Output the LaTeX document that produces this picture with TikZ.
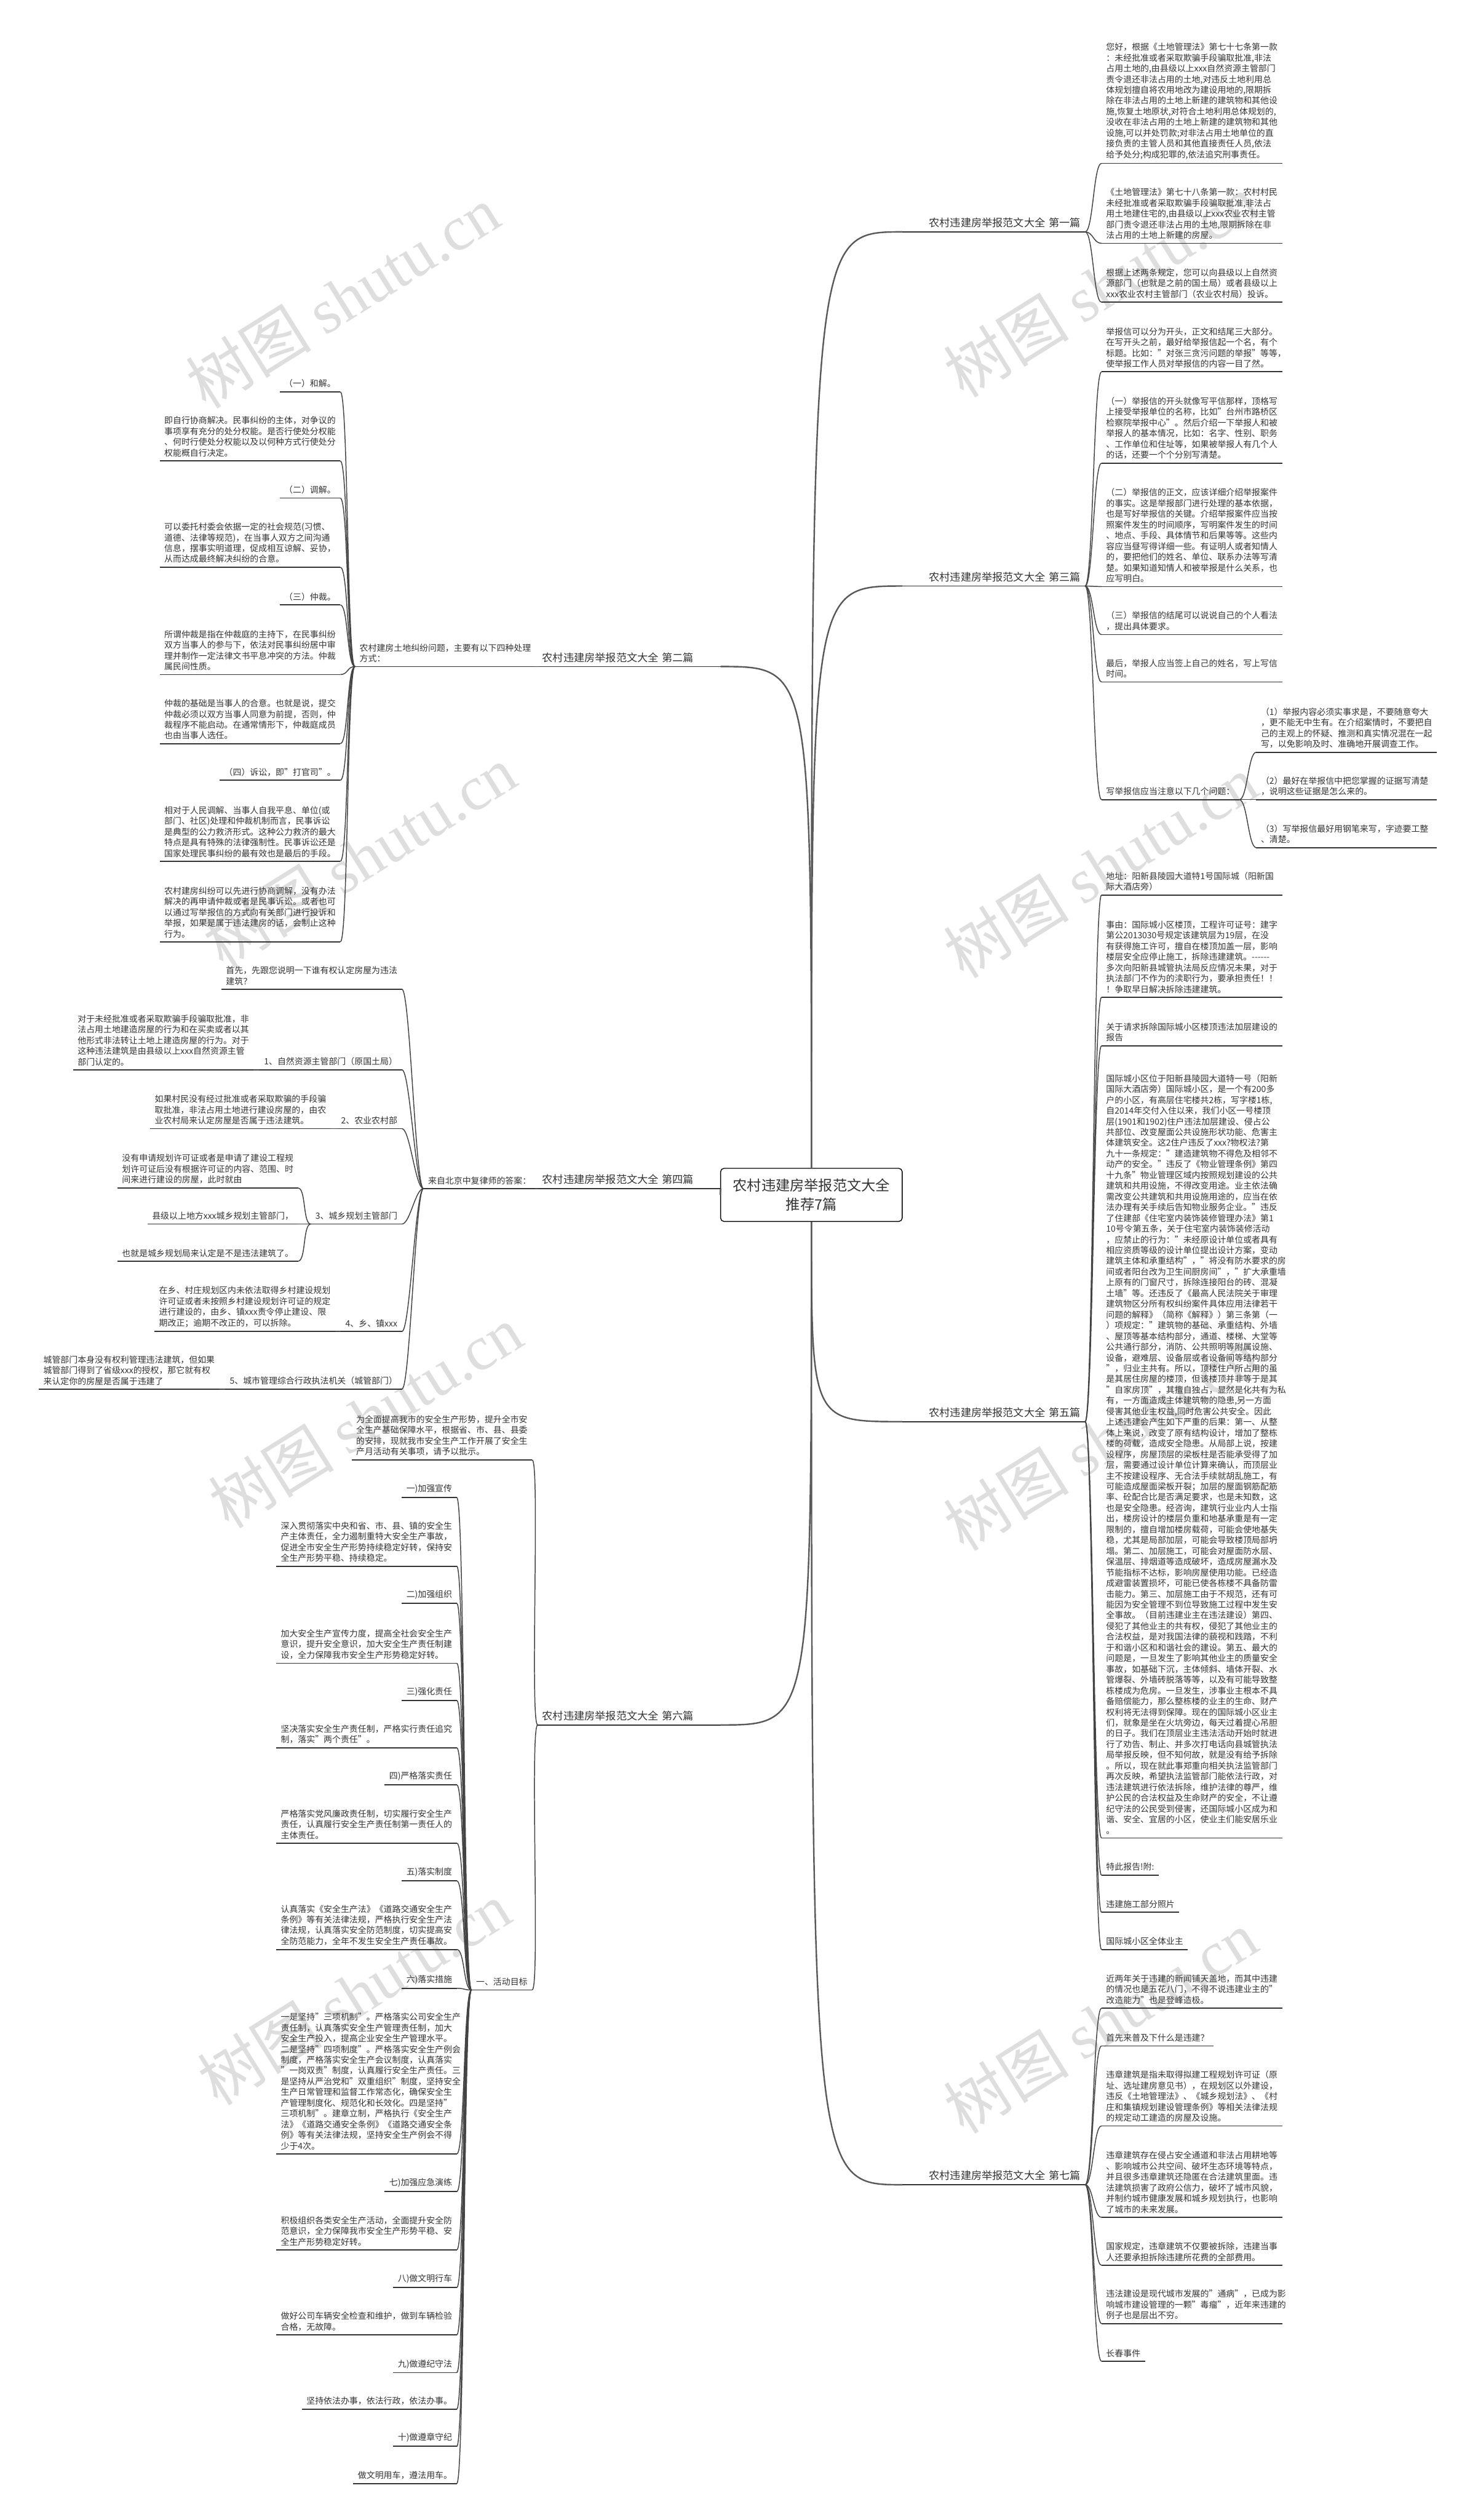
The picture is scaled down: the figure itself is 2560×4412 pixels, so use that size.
\documentclass[tikz,border=0pt]{standalone}
\usepackage{fontspec}
\setmainfont{Noto Sans CJK SC}
\newfontfamily\wmfont{Liberation Serif}
\usetikzlibrary{positioning,calc}

\definecolor{ink}{HTML}{333333}
\definecolor{wire}{HTML}{444444}
\definecolor{trunkgray}{HTML}{595959}
\definecolor{wmgray}{HTML}{DEDEDE}

\newcommand\leaffont{\fontsize{15}{18.8}\selectfont}
\newcommand\branchfont{\fontsize{18.5}{22}\selectfont}
\newcommand\topicfont{\fontsize{25}{33}\selectfont}

\tikzset{
    topic/.style={draw=black, fill=white, rounded corners=6pt, line width=1.5pt, minimum width=318pt,
                  minimum height=93pt, align=center, font=\topicfont, text=ink},
    uline/.style={draw=ink, line width=2pt},
    leaf/.style={font=\leaffont, text=ink, align=left, inner xsep=8pt, inner ysep=7pt,
                 append after command={(\tikzlastnode.south west) edge[uline] (\tikzlastnode.south east)}},
    para/.style={leaf, text width=300pt},
    branchR/.style={leaf, font=\branchfont, text width=304pt, align=right},
    branchL/.style={leaf, font=\branchfont, text width=304pt, align=left},
    link/.style={draw=wire, line width=1.6pt},
    trunk/.style={draw=trunkgray, line width=2.6pt},
    rfork/.style={to path={.. controls ($(\tikztostart)+(14,0)$) and ($(\tikztotarget)+(-14,0)$) .. (\tikztotarget)}},
    lfork/.style={to path={.. controls ($(\tikztostart)+(-14,0)$) and ($(\tikztotarget)+(14,0)$) .. (\tikztotarget)}},
    stamp/.style={text=wmgray, rotate=32, font=\fontsize{110}{110}\selectfont},
}

\begin{document}
\begin{tikzpicture}[x=1pt, y=-1pt]
    \fill[white] (0,0) rectangle (2560,4412);
    \useasboundingbox (0,0) rectangle (2560,4412);

    % Watermarks
    \node[stamp] (wm1) at (600,520) {树图 {\wmfont shutu.cn}};
    \node[stamp] (wm2) at (1927,500) {树图 {\wmfont shutu.cn}};
    \node[stamp] (wm3) at (630,1500) {树图 {\wmfont shutu.cn}};
    \node[stamp] (wm4) at (1927,1517) {树图 {\wmfont shutu.cn}};
    \node[stamp] (wm5) at (640,2480) {树图 {\wmfont shutu.cn}};
    \node[stamp] (wm6) at (1927,2520) {树图 {\wmfont shutu.cn}};
    \node[stamp] (wm7) at (620,3490) {树图 {\wmfont shutu.cn}};
    \node[stamp] (wm8) at (1927,3540) {树图 {\wmfont shutu.cn}};

    % Branches
    \node[branchR, anchor=south west] (art1) at (1580,406) {农村违建房举报范文大全 第一篇};
    \node[branchR, anchor=south west] (art3) at (1580,1026) {农村违建房举报范文大全 第三篇};
    \node[branchR, anchor=south west] (art5) at (1580,2489) {农村违建房举报范文大全 第五篇};
    \node[branchR, anchor=south west] (art7) at (1580,3825) {农村违建房举报范文大全 第七篇};
    \node[branchL, anchor=south east] (art2) at (1262,1167) {农村违建房举报范文大全 第二篇};
    \node[branchL, anchor=south east] (art4) at (1262,2081) {农村违建房举报范文大全 第四篇};
    \node[branchL, anchor=south east] (art6) at (1262,3020) {农村违建房举报范文大全 第六篇};

    % Root
    \node[topic] (root) at (1421,2092) {农村违建房举报范文大全\\推荐7篇};
    \draw[trunk] (root.north) .. controls (root.north |- art1.south west) .. (art1.south west);
    \draw[trunk] (root.north) .. controls (root.north |- art3.south west) .. (art3.south west);
    \draw[trunk] (root.north) .. controls (root.north |- art2.south east) .. (art2.south east);
    \draw[trunk] (root.south) .. controls (root.south |- art5.south west) .. (art5.south west);
    \draw[trunk] (root.south) .. controls (root.south |- art7.south west) .. (art7.south west);
    \draw[trunk] (root.south) .. controls (root.south |- art6.south east) .. (art6.south east);
    \draw[trunk] (root.west) -- (art4.south east);

    % First
    \node[para, anchor=south west] (a1a) at (1929,286) {您好，根据《土地管理法》第七十七条第一款\\：未经批准或者采取欺骗手段骗取批准,非法\\占用土地的,由县级以上xxx自然资源主管部门\\责令退还非法占用的土地,对违反土地利用总\\体规划擅自将农用地改为建设用地的,限期拆\\除在非法占用的土地上新建的建筑物和其他设\\施,恢复土地原状,对符合土地利用总体规划的,\\没收在非法占用的土地上新建的建筑物和其他\\设施,可以并处罚款;对非法占用土地单位的直\\接负责的主管人员和其他直接责任人员,依法\\给予处分;构成犯罪的,依法追究刑事责任。};
    \node[para, anchor=south west] (a1b) at (1929,426) {《土地管理法》第七十八条第一款：农村村民\\未经批准或者采取欺骗手段骗取批准,非法占\\用土地建住宅的,由县级以上xxx农业农村主管\\部门责令退还非法占用的土地,限期拆除在非\\法占用的土地上新建的房屋。};
    \node[para, anchor=south west] (a1c) at (1929,529) {根据上述两条规定，您可以向县级以上自然资\\源部门（也就是之前的国土局）或者县级以上\\xxx农业农村主管部门（农业农村局）投诉。};
    \draw[link] (art1.south east) to[rfork] (a1a.south west);
    \draw[link] (art1.south east) to[rfork] (a1b.south west);
    \draw[link] (art1.south east) to[rfork] (a1c.south west);

    % Third
    \node[para, anchor=south west] (a3a) at (1929,651) {举报信可以分为开头，正文和结尾三大部分。\\在写开头之前，最好给举报信起一个名，有个\\标题。比如："对张三贪污问题的举报"等等，\\使举报工作人员对举报信的内容一目了然。};
    \node[para, anchor=south west] (a3b) at (1929,811) {（一）举报信的开头就像写平信那样，顶格写\\上接受举报单位的名称，比如"台州市路桥区\\检察院举报中心"。然后介绍一下举报人和被\\举报人的基本情况，比如：名字、性别、职务\\、工作单位和住址等，如果被举报人有几个人\\的话，还要一个个分别写清楚。};
    \node[para, anchor=south west] (a3c) at (1929,1027) {（二）举报信的正文，应该详细介绍举报案件\\的事实。这是举报部门进行处理的基本依据，\\也是写好举报信的关键。介绍举报案件应当按\\照案件发生的时间顺序，写明案件发生的时间\\、地点、手段、具体情节和后果等等。这些内\\容应当昼写得详细一些。有证明人或者知情人\\的，要把他们的姓名、单位、联系办法等写清\\楚。如果知道知情人和被举报是什么关系，也\\应写明白。};
    \node[para, anchor=south west] (a3d) at (1929,1111) {（三）举报信的结尾可以说说自己的个人看法\\，提出具体要求。};
    \node[para, anchor=south west] (a3e) at (1929,1194) {最后，举报人应当签上自己的姓名，写上写信\\时间。};
    \node[leaf, anchor=south west] (a3f) at (1929,1400) {写举报信应当注意以下几个问题：};
    \node[para, anchor=south west] (a3g) at (2200,1317) {（1）举报内容必须实事求是，不要随意夸大\\，更不能无中生有。在介绍案情时，不要把自\\己的主观上的怀疑、推测和真实情况混在一起\\写，以免影响及时、准确地开展调查工作。};
    \node[para, anchor=south west] (a3h) at (2200,1400) {（2）最好在举报信中把您掌握的证据写清楚\\，说明这些证据是怎么来的。};
    \node[para, anchor=south west] (a3i) at (2200,1484) {（3）写举报信最好用钢笔来写，字迹要工整\\、清楚。};
    \draw[link] (art3.south east) to[rfork] (a3a.south west);
    \draw[link] (art3.south east) to[rfork] (a3b.south west);
    \draw[link] (art3.south east) to[rfork] (a3c.south west);
    \draw[link] (art3.south east) to[rfork] (a3d.south west);
    \draw[link] (art3.south east) to[rfork] (a3e.south west);
    \draw[link] (art3.south east) to[rfork] (a3f.south west);
    \draw[link] (a3f.south east) to[rfork] (a3g.south west);
    \draw[link] (a3f.south east) to[rfork] (a3h.south west);
    \draw[link] (a3f.south east) to[rfork] (a3i.south west);

    % Fifth
    \node[para, anchor=south west] (a5a) at (1929,1567) {地址：阳新县陵园大道特1号国际城（阳新国\\际大酒店旁）};
    \node[para, anchor=south west] (a5b) at (1929,1746) {事由：国际城小区楼顶，工程许可证号：建字\\第公2013030号规定该建筑层为19层，在没\\有获得施工许可，擅自在楼顶加盖一层，影响\\楼层安全应停止施工，拆除违建建筑。-{}-{}-{}-{}-{}-\\多次向阳新县城管执法局反应情况未果，对于\\执法部门不作为的渎职行为，要承担责任！！\\！争取早日解决拆除违建建筑。};
    \node[para, anchor=south west] (a5c) at (1929,1831) {关于请求拆除国际城小区楼顶违法加层建设的\\报告};
    \node[para, anchor=south west] (a5d) at (1929,3218) {国际城小区位于阳新县陵园大道特一号（阳新\\国际大酒店旁）国际城小区，是一个有200多\\户的小区，有高层住宅楼共2栋，写字楼1栋,\\自2014年交付入住以来，我们小区一号楼顶\\层(1901和1902)住户违法加层建设、侵占公\\共部位、改变屋面公共设施形状功能、危害主\\体建筑安全。这2住户违反了xxx?物权法?第\\九十一条规定："建造建筑物不得危及相邻不\\动产的安全。"违反了《物业管理条例》第四\\十九条"物业管理区域内按照规划建设的公共\\建筑和共用设施，不得改变用途。业主依法确\\需改变公共建筑和共用设施用途的，应当在依\\法办理有关手续后告知物业服务企业。"违反\\了住建部《住宅室内装饰装修管理办法》第1\\10号令第五条，关于住宅室内装饰装修活动\\，应禁止的行为："未经原设计单位或者具有\\相应资质等级的设计单位提出设计方案，变动\\建筑主体和承重结构"，"将没有防水要求的房\\间或者阳台改为卫生间厨房间"，"扩大承重墙\\上原有的门窗尺寸，拆除连接阳台的砖、混凝\\土墙"等。还违反了《最高人民法院关于审理\\建筑物区分所有权纠纷案件具体应用法律若干\\问题的解释》（简称《解释》）第三条第（一\\）项规定："建筑物的基础、承重结构、外墙\\、屋顶等基本结构部分，通道、楼梯、大堂等\\公共通行部分，消防、公共照明等附属设施、\\设备，避难层、设备层或者设备间等结构部分\\"，归业主共有。所以，顶楼住户所占用的虽\\是其居住房屋的楼顶，但该楼顶并非等于是其\\"自家房顶"，其擅自独占，显然是化共有为私\\有，一方面造成主体建筑物的隐患,另一方面\\侵害其他业主权益,同时危害公共安全。因此\\上述违建会产生如下严重的后果：第一、从整\\体上来说，改变了原有结构设计，增加了整栋\\楼的荷载，造成安全隐患。从局部上说，按建\\设程序，房屋顶层的梁板柱是否能承受得了加\\层，需要通过设计单位计算来确认，而顶层业\\主不按建设程序、无合法手续就胡乱施工，有\\可能造成屋面梁板开裂；加层的屋面钢筋配筋\\率、砼配合比是否满足要求，也是未知数，这\\也是安全隐患。经咨询，建筑行业业内人士指\\出，楼房设计的楼层负重和地基承重是有一定\\限制的，擅自增加楼房载荷，可能会使地基失\\稳，尤其是局部加层，可能会导致楼顶局部坍\\塌。第二、加层施工，可能会对屋面防水层、\\保温层、排烟道等造成破坏，造成房屋漏水及\\节能指标不达标，影响房屋使用功能。已经造\\成避雷装置损坏，可能已使各栋楼不具备防雷\\击能力。第三、加层施工由于不规范，还有可\\能因为安全管理不到位导致施工过程中发生安\\全事故。（目前违建业主在违法建设）第四、\\侵犯了其他业主的共有权，侵犯了其他业主的\\合法权益，是对我国法律的藐视和践踏，不利\\于和谐小区和和谐社会的建设。第五、最大的\\问题是，一旦发生了影响其他业主的质量安全\\事故，如基础下沉，主体倾斜、墙体开裂、水\\管爆裂、外墙砖脱落等等，以及有可能导致整\\栋楼成为危房。一旦发生，涉事业主根本不具\\备赔偿能力，那么整栋楼的业主的生命、财产\\权利将无法得到保障。现在的国际城小区业主\\们，就象是坐在火坑旁边，每天过着提心吊胆\\的日子。我们在顶层业主违法活动开始时就进\\行了劝告、制止、并多次打电话向县城管执法\\局举报反映，但不知何故，就是没有给予拆除\\。所以，现在就此事郑重向相关执法监管部门\\再次反映，希望执法监管部门能依法行政，对\\违法建筑进行依法拆除，维护法律的尊严，维\\护公民的合法权益及生命财产的安全，不让遵\\纪守法的公民受到侵害，还国际城小区成为和\\谐、安全、宜居的小区，使业主们能安居乐业\\。};
    \node[leaf, anchor=south west] (a5e) at (1929,3283) {特此报告!附:};
    \node[leaf, anchor=south west] (a5f) at (1929,3348) {违建施工部分照片};
    \node[leaf, anchor=south west] (a5g) at (1929,3413) {国际城小区全体业主};
    \draw[link] (art5.south east) to[rfork] (a5a.south west);
    \draw[link] (art5.south east) to[rfork] (a5b.south west);
    \draw[link] (art5.south east) to[rfork] (a5c.south west);
    \draw[link] (art5.south east) to[rfork] (a5d.south west);
    \draw[link] (art5.south east) to[rfork] (a5e.south west);
    \draw[link] (art5.south east) to[rfork] (a5f.south west);
    \draw[link] (art5.south east) to[rfork] (a5g.south west);

    % Seventh
    \node[para, anchor=south west] (a7a) at (1929,3516) {近两年关于违建的新闻铺天盖地，而其中违建\\的情况也是五花八门，不得不说违建业主的"\\改造能力"也是登峰造极。};
    \node[leaf, anchor=south west] (a7b) at (1929,3582) {首先来普及下什么是违建？};
    \node[para, anchor=south west] (a7c) at (1929,3722) {违章建筑是指未取得拟建工程规划许可证（原\\址、选址建房意见书），在规划区以外建设，\\违反《土地管理法》、《城乡规划法》、《村\\庄和集镇规划建设管理条例》等相关法律法规\\的规定动工建造的房屋及设施。};
    \node[para, anchor=south west] (a7d) at (1929,3882) {违章建筑存在侵占安全通道和非法占用耕地等\\、影响城市公共空间、破坏生态环境等特点，\\并且很多违章建筑还隐匿在合法建筑里面。违\\法建筑损害了政府公信力，破坏了城市风貌，\\并制约城市健康发展和城乡规划执行，也影响\\了城市的未来发展。};
    \node[para, anchor=south west] (a7e) at (1929,3966) {国家规定，违章建筑不仅要被拆除，违建当事\\人还要承担拆除违建所花费的全部费用。};
    \node[para, anchor=south west] (a7f) at (1929,4068) {违法建设是现代城市发展的"通病"，已成为影\\响城市建设管理的一颗"毒瘤"，近年来违建的\\例子也是层出不穷。};
    \node[leaf, anchor=south west] (a7g) at (1929,4134) {长春事件};
    \draw[link] (art7.south east) to[rfork] (a7a.south west);
    \draw[link] (art7.south east) to[rfork] (a7b.south west);
    \draw[link] (art7.south east) to[rfork] (a7c.south west);
    \draw[link] (art7.south east) to[rfork] (a7d.south west);
    \draw[link] (art7.south east) to[rfork] (a7e.south west);
    \draw[link] (art7.south east) to[rfork] (a7f.south west);
    \draw[link] (art7.south east) to[rfork] (a7g.south west);

    % Second
    \node[para, anchor=south east] (a2q) at (938,1167) {农村建房土地纠纷问题，主要有以下四种处理\\方式：};
    \node[leaf, anchor=south east] (a2a) at (596,686) {（一）和解。};
    \node[para, anchor=south east] (a2b) at (596,807) {即自行协商解决。民事纠纷的主体，对争议的\\事项享有充分的处分权能。是否行使处分权能\\、何时行使处分权能以及以何种方式行使处分\\权能概自行决定。};
    \node[leaf, anchor=south east] (a2c) at (596,872) {（二）调解。};
    \node[para, anchor=south east] (a2d) at (596,993) {可以委托村委会依据一定的社会规范(习惯、\\道德、法律等规范)，在当事人双方之间沟通\\信息，摆事实明道理，促成相互谅解、妥协，\\从而达成最终解决纠纷的合意。};
    \node[leaf, anchor=south east] (a2e) at (596,1059) {（三）仲裁。};
    \node[para, anchor=south east] (a2f) at (596,1181) {所谓仲裁是指在仲裁庭的主持下，在民事纠纷\\双方当事人的参与下，依法对民事纠纷居中审\\理并制作一定法律文书平息冲突的方法。仲裁\\属民间性质。};
    \node[para, anchor=south east] (a2g) at (596,1302) {仲裁的基础是当事人的合意。也就是说，提交\\仲裁必须以双方当事人同意为前提，否则，仲\\裁程序不能启动。在通常情形下，仲裁庭成员\\也由当事人选任。};
    \node[leaf, anchor=south east] (a2h) at (596,1366) {（四）诉讼，即"打官司"。};
    \node[para, anchor=south east] (a2i) at (596,1508) {相对于人民调解、当事人自我平息、单位(或\\部门、社区)处理和仲裁机制而言，民事诉讼\\是典型的公力救济形式。这种公力救济的最大\\特点是具有特殊的法律强制性。民事诉讼还是\\国家处理民事纠纷的最有效也是最后的手段。};
    \node[para, anchor=south east] (a2j) at (596,1649) {农村建房纠纷可以先进行协商调解，没有办法\\解决的再申请仲裁或者是民事诉讼。或者也可\\以通过写举报信的方式向有关部门进行投诉和\\举报，如果是属于违法建房的话，会制止这种\\行为。};
    \draw[link] (art2.south west) to[lfork] (a2q.south east);
    \draw[link] (a2q.south west) to[lfork] (a2a.south east);
    \draw[link] (a2q.south west) to[lfork] (a2b.south east);
    \draw[link] (a2q.south west) to[lfork] (a2c.south east);
    \draw[link] (a2q.south west) to[lfork] (a2d.south east);
    \draw[link] (a2q.south west) to[lfork] (a2e.south east);
    \draw[link] (a2q.south west) to[lfork] (a2f.south east);
    \draw[link] (a2q.south west) to[lfork] (a2g.south east);
    \draw[link] (a2q.south west) to[lfork] (a2h.south east);
    \draw[link] (a2q.south west) to[lfork] (a2i.south east);
    \draw[link] (a2q.south west) to[lfork] (a2j.south east);

    % Fourth
    \node[leaf, anchor=south east] (a4q) at (938,2081) {来自北京中复律师的答案：};
    \node[para, anchor=south east] (a4a) at (704,1732) {首先，先跟您说明一下谁有权认定房屋为违法\\建筑？};
    \node[leaf, anchor=south east] (a4b) at (704,1873) {1、自然资源主管部门（原国土局）};
    \node[para, left=10pt of a4b.south west, anchor=south east] (a4b1) {对于未经批准或者采取欺骗手段骗取批准，非\\法占用土地建造房屋的行为和在买卖或者以其\\他形式非法转让土地上建造房屋的行为。对于\\这种违法建筑是由县级以上xxx自然资源主管\\部门认定的。};
    \node[leaf, anchor=south east] (a4c) at (704,1976) {2、农业农村部};
    \node[para, left=10pt of a4c.south west, anchor=south east] (a4c1) {如果村民没有经过批准或者采取欺骗的手段骗\\取批准，非法占用土地进行建设房屋的，由农\\业农村局来认定房屋是否属于违法建筑。};
    \node[leaf, anchor=south east] (a4d) at (704,2143) {3、城乡规划主管部门};
    \node[para, anchor=south east] (a4d1) at (522,2080) {没有申请规划许可证或者是申请了建设工程规\\划许可证后没有根据许可证的内容、范围、时\\间来进行建设的房屋，此时就由};
    \node[leaf, anchor=south east] (a4d2) at (522,2143) {县级以上地方xxx城乡规划主管部门，};
    \node[leaf, anchor=south east] (a4d3) at (522,2208) {也就是城乡规划局来认定是不是违法建筑了。};
    \node[leaf, anchor=south east] (a4e) at (704,2331) {4、乡、镇xxx};
    \node[para, left=10pt of a4e.south west, anchor=south east] (a4e1) {在乡、村庄规划区内未依法取得乡村建设规划\\许可证或者未按照乡村建设规划许可证的规定\\进行建设的，由乡、镇xxx责令停止建设、限\\期改正；逾期不改正的，可以拆除。};
    \node[leaf, anchor=south east] (a4f) at (704,2432) {5、城市管理综合行政执法机关（城管部门）};
    \node[para, left=10pt of a4f.south west, anchor=south east] (a4f1) {城管部门本身没有权利管理违法建筑，但如果\\城管部门得到了省级xxx的授权，那它就有权\\来认定你的房屋是否属于违建了};
    \draw[link] (art4.south west) to[lfork] (a4q.south east);
    \draw[link] (a4q.south west) to[lfork] (a4a.south east);
    \draw[link] (a4q.south west) to[lfork] (a4b.south east);
    \draw[link] (a4q.south west) to[lfork] (a4c.south east);
    \draw[link] (a4q.south west) to[lfork] (a4d.south east);
    \draw[link] (a4q.south west) to[lfork] (a4e.south east);
    \draw[link] (a4q.south west) to[lfork] (a4f.south east);
    \draw[link] (a4b.south west) to[lfork] (a4b1.south east);
    \draw[link] (a4c.south west) to[lfork] (a4c1.south east);
    \draw[link] (a4d.south west) to[lfork] (a4d1.south east);
    \draw[link] (a4d.south west) to[lfork] (a4d2.south east);
    \draw[link] (a4d.south west) to[lfork] (a4d3.south east);
    \draw[link] (a4e.south west) to[lfork] (a4e1.south east);
    \draw[link] (a4f.south west) to[lfork] (a4f1.south east);

    % Sixth
    \node[para, anchor=south east] (a6a) at (932,2556) {为全面提高我市的安全生产形势，提升全市安\\全生产基础保障水平，根据省、市、县、县委\\的安排，现就我市安全生产工作开展了安全生\\产月活动有关事项，请予以批示。};
    \node[leaf, anchor=south east] (a6b) at (932,3484) {一、活动目标};
    \node[leaf, anchor=south east] (g1) at (800,2622) {一)加强宣传};
    \node[para, anchor=south east] (g2) at (800,2742) {深入贯彻落实中央和省、市、县、镇的安全生\\产主体责任，全力遏制重特大安全生产事故，\\促进全市安全生产形势持续稳定好转，保持安\\全生产形势平稳、持续稳定。};
    \node[leaf, anchor=south east] (g3) at (800,2807) {二)加强组织};
    \node[para, anchor=south east] (g4) at (800,2912) {加大安全生产宣传力度，提高全社会安全生产\\意识，提升安全意识，加大安全生产责任制建\\设，全力保障我市安全生产形势稳定好转。};
    \node[leaf, anchor=south east] (g5) at (800,2977) {三)强化责任};
    \node[para, anchor=south east] (g6) at (800,3060) {坚决落实安全生产责任制，严格实行责任追究\\制，落实"两个责任"。};
    \node[leaf, anchor=south east] (g7) at (800,3125) {四)严格落实责任};
    \node[para, anchor=south east] (g8) at (800,3227) {严格落实党风廉政责任制，切实履行安全生产\\责任，认真履行安全生产责任制第一责任人的\\主体责任。};
    \node[leaf, anchor=south east] (g9) at (800,3293) {五)落实制度};
    \node[para, anchor=south east] (g10) at (800,3413) {认真落实《安全生产法》《道路交通安全生产\\条例》等有关法律法规，严格执行安全生产法\\律法规，认真落实安全防范制度，切实提高安\\全防范能力，全年不发生安全生产责任事故。};
    \node[leaf, anchor=south east] (g11) at (800,3481) {六)落实措施};
    \node[para, anchor=south east] (g12) at (800,3771) {一是坚持"三项机制"。严格落实公司安全生产\\责任制，认真落实安全生产管理责任制，加大\\安全生产投入，提高企业安全生产管理水平。\\二是坚持"四项制度"。严格落实安全生产例会\\制度，严格落实安全生产会议制度，认真落实\\"一岗双责"制度，认真履行安全生产责任。三\\是坚持从严治党和"双重组织"制度，坚持安全\\生产日常管理和监督工作常态化，确保安全生\\产管理制度化、规范化和长效化。四是坚持"\\三项机制"。建章立制，严格执行《安全生产\\法》《道路交通安全条例》《道路交通安全条\\例》等有关法律法规，坚持安全生产例会不得\\少于4次。};
    \node[leaf, anchor=south east] (g13) at (800,3837) {七)加强应急演练};
    \node[para, anchor=south east] (g14) at (800,3939) {积极组织各类安全生产活动，全面提升安全防\\范意识，全力保障我市安全生产形势平稳、安\\全生产形势稳定好转。};
    \node[leaf, anchor=south east] (g15) at (800,4005) {八)做文明行车};
    \node[para, anchor=south east] (g16) at (800,4088) {做好公司车辆安全检查和维护，做到车辆检验\\合格，无故障。};
    \node[leaf, anchor=south east] (g17) at (800,4154) {九)做遵纪守法};
    \node[leaf, anchor=south east] (g18) at (800,4218) {坚持依法办事，依法行政，依法办事。};
    \node[leaf, anchor=south east] (g19) at (800,4283) {十)做遵章守纪};
    \node[leaf, anchor=south east] (g20) at (800,4348) {做文明用车，遵法用车。};
    \draw[link] (art6.south west) to[lfork] (a6a.south east);
    \draw[link] (art6.south west) to[lfork] (a6b.south east);
    \draw[link] (a6b.south west) to[lfork] (g1.south east);
    \draw[link] (a6b.south west) to[lfork] (g2.south east);
    \draw[link] (a6b.south west) to[lfork] (g3.south east);
    \draw[link] (a6b.south west) to[lfork] (g4.south east);
    \draw[link] (a6b.south west) to[lfork] (g5.south east);
    \draw[link] (a6b.south west) to[lfork] (g6.south east);
    \draw[link] (a6b.south west) to[lfork] (g7.south east);
    \draw[link] (a6b.south west) to[lfork] (g8.south east);
    \draw[link] (a6b.south west) to[lfork] (g9.south east);
    \draw[link] (a6b.south west) to[lfork] (g10.south east);
    \draw[link] (a6b.south west) to[lfork] (g11.south east);
    \draw[link] (a6b.south west) to[lfork] (g12.south east);
    \draw[link] (a6b.south west) to[lfork] (g13.south east);
    \draw[link] (a6b.south west) to[lfork] (g14.south east);
    \draw[link] (a6b.south west) to[lfork] (g15.south east);
    \draw[link] (a6b.south west) to[lfork] (g16.south east);
    \draw[link] (a6b.south west) to[lfork] (g17.south east);
    \draw[link] (a6b.south west) to[lfork] (g18.south east);
    \draw[link] (a6b.south west) to[lfork] (g19.south east);
    \draw[link] (a6b.south west) to[lfork] (g20.south east);
\end{tikzpicture}
\end{document}
